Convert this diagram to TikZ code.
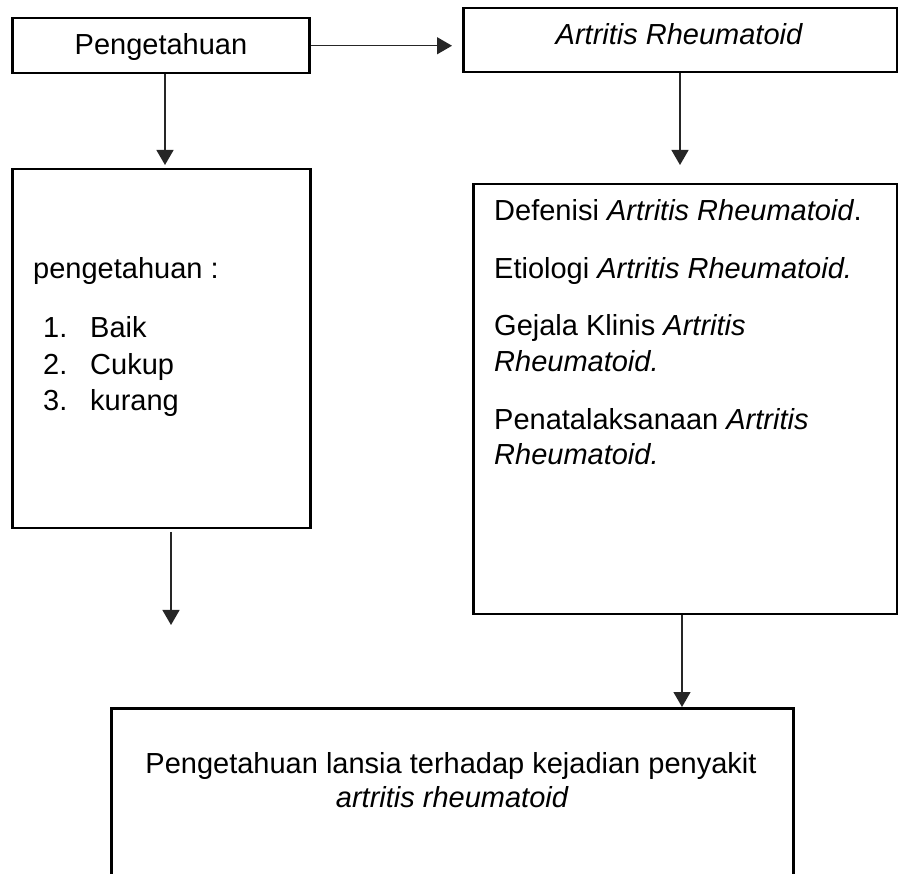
\documentclass[tikz,border=0pt]{standalone}
\usepackage{fontspec}
\setmainfont{Liberation Sans}
\usetikzlibrary{arrows.meta}
\tikzset{
  box/.style={draw=black, line width=2.5pt, inner sep=0pt, anchor=north west},
  txt/.style={inner sep=0pt, anchor=base west, font=\fontsize{29}{36}\selectfont},
  ctxt/.style={inner sep=0pt, anchor=base, font=\fontsize{29}{36}\selectfont},
  arr/.style={draw=black!85, line width=1.3pt, -{Triangle[length=15pt,width=17pt]}}
}
\begin{document}
\begin{tikzpicture}[x=1pt,y=-1pt]
\useasboundingbox (0,0) rectangle (898,874);
\clip (0,0) rectangle (898,874);
% boxes
\node[box, minimum width=297pt, minimum height=55pt] (A) at (11,17) {};
\node[box, minimum width=434pt, minimum height=64pt] (B) at (462,7) {};
\node[box, minimum width=298pt, minimum height=359pt] (C) at (11,168) {};
\node[box, minimum width=424pt, minimum height=430pt] (D) at (472,183) {};
\node[box, minimum width=682pt, minimum height=200pt] (E) at (110,707) {};
% texts
\node[ctxt] (tA) at (161,55) {Pengetahuan};
\node[ctxt] (tB) at (679,45) {\itshape Artritis Rheumatoid};
\node[txt] (c0) at (33,279) {pengetahuan :};
\node[txt] (c1) at (43,338) {1.};
\node[txt] (c1b) at (90,338) {Baik};
\node[txt] (c2) at (43,375) {2.};
\node[txt] (c2b) at (90,375) {Cukup};
\node[txt] (c3) at (43,411) {3.};
\node[txt] (c3b) at (90,411) {kurang};
\node[txt] (d1) at (494,221) {Defenisi \textit{Artritis Rheumatoid}.};
\node[txt] (d2) at (494,279) {Etiologi \textit{Artritis Rheumatoid.}};
\node[txt] (d3) at (494,336) {Gejala Klinis \textit{Artritis}};
\node[txt] (d3b) at (494,372) {\itshape Rheumatoid.};
\node[txt] (d4) at (494,430) {Penatalaksanaan \textit{Artritis}};
\node[txt] (d4b) at (494,465) {\itshape Rheumatoid.};
\node[ctxt] (e1) at (451,773) {Pengetahuan lansia terhadap kejadian penyakit};
\node[ctxt] (e2) at (452,807) {\itshape artritis rheumatoid};
% connectors
\coordinate (k1) at (165,0);
\coordinate (k2) at (680,0);
\coordinate (k4) at (682,0);
\coordinate (cs) at (171,532);
\coordinate (ce) at (171,625);
\draw[arr, shorten >=10pt] (A.east) -- (A.east -| B.west);
\draw[arr, shorten >=3pt] (A.south -| k1) -- (C.north -| k1);
\draw[arr, shorten >=18pt] (B.south -| k2) -- (D.north -| k2);
\draw[arr] (cs) -- (ce);
\draw[arr] (D.south -| k4) -- (E.north -| k4);
\end{tikzpicture}
\end{document}
